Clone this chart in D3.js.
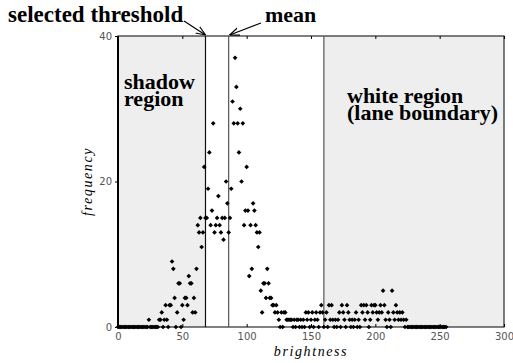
<!DOCTYPE html>
<html>
<head>
<meta charset="utf-8">
<script src="https://cdn.jsdelivr.net/npm/d3@7"></script>
<style>
  body { margin: 0; background: #fff; }
  svg text { font-family: "Liberation Serif", serif; }
</style>
</head>
<body>
<div id="chart"></div>
<script>
// histogram: frequency for brightness 0..255
const frequency = [
  0,0,0,0,0,0,0,0,0,0,0,0,0,0,0,0,
  0,0,0,0,0,0,0,0,1,0,0,0,0,0,0,0,
  1,1,2,0,1,3,1,0,3,3,9,8,4,0,2,6,
  6,0,3,1,4,4,3,7,6,6,2,4,2,8,14,13,
  15,11,13,22,15,15,19,24,14,16,28,13,14,15,18,14,
  13,15,12,15,20,17,13,15,19,31,28,37,33,28,24,30,
  20,28,14,16,22,16,7,14,8,17,16,14,13,11,13,5,
  2,6,6,4,8,6,4,4,3,3,2,3,2,1,0,2,
  0,2,2,1,1,1,1,1,0,1,0,1,1,0,1,0,
  1,0,2,1,2,0,1,2,0,1,2,1,0,2,3,2,
  0,1,2,0,3,1,3,1,0,1,0,1,2,0,3,2,
  1,0,3,2,1,0,1,0,1,2,0,1,0,3,2,3,
  1,3,2,0,1,3,2,3,3,2,1,2,3,2,5,3,
  1,0,2,1,0,5,2,1,3,2,1,2,1,2,1,0,
  1,0,0,0,0,0,0,0,0,0,0,0,0,0,0,0,
  0,0,0,0,0,0,0,0,0,0,0,0,0,0,0,0
];
const brightness = frequency.map((f, i) => i);

const xTicks = [0, 50, 100, 150, 200, 250, 300];
const yTicks = [0, 20, 40];
const threshold = 68;
const mean = 86;
const whiteStart = 160;

const W = 513, H = 363;
const margin = {top: 36, right: 9, bottom: 36, left: 118};
const width = W - margin.left - margin.right;
const height = H - margin.top - margin.bottom;

const svg = d3.select("#chart").append("svg")
  .attr("width", W).attr("height", H);

const defs = svg.append("defs");
defs.append("marker")
  .attr("id", "arr")
  .attr("viewBox", "0 0 10 10")
  .attr("refX", 10).attr("refY", 5)
  .attr("markerWidth", 8).attr("markerHeight", 8)
  .attr("orient", "auto")
  .append("path")
  .attr("d", "M0,1 L10,5 L0,9")
  .attr("fill", "none").attr("stroke", "#000").attr("stroke-width", 1.2);

const g = svg.append("g").attr("transform", `translate(${margin.left},${margin.top})`);

const x = d3.scaleLinear().domain([0, 300]).range([0, width]);
const y = d3.scaleLinear().domain([0, 40]).range([height, 0]);

// shaded regions
g.append("rect").attr("x", x(0)).attr("y", 0)
  .attr("width", x(threshold) - x(0)).attr("height", height).attr("fill", "#eeeeee");
g.append("rect").attr("x", x(whiteStart)).attr("y", 0)
  .attr("width", x(300) - x(whiteStart)).attr("height", height).attr("fill", "#eeeeee");

// frame
g.append("rect").attr("width", width).attr("height", height)
  .attr("fill", "none").attr("stroke", "#000").attr("stroke-width", 1);
g.append("line").attr("x1", 0).attr("x2", 0).attr("y1", 0).attr("y2", height)
  .attr("stroke", "#000").attr("stroke-width", 2);

// axes
const tickFont = g => g.selectAll("text")
  .attr("fill", "#555").style("font-family", "DejaVu Sans, sans-serif").style("font-size", "10px");

g.append("g").attr("transform", `translate(0,${height})`)
  .call(d3.axisBottom(x).tickValues(xTicks).tickSize(-3).tickPadding(6))
  .call(a => a.select(".domain").remove())
  .call(tickFont);
g.append("g")
  .call(d3.axisTop(x).tickValues(xTicks).tickSize(-3).tickFormat(""))
  .call(a => a.select(".domain").remove());
g.append("g")
  .call(d3.axisLeft(y).tickValues(yTicks).tickSize(3).tickPadding(3))
  .call(a => a.select(".domain").remove())
  .call(tickFont);

// vertical marker lines
g.append("line").attr("x1", x(threshold)).attr("x2", x(threshold))
  .attr("y1", 0).attr("y2", height).attr("stroke", "#111").attr("stroke-width", 1.2);
g.append("line").attr("x1", x(mean)).attr("x2", x(mean))
  .attr("y1", 0).attr("y2", height).attr("stroke", "#555").attr("stroke-width", 1.2);
g.append("line").attr("x1", x(whiteStart)).attr("x2", x(whiteStart))
  .attr("y1", 0).attr("y2", height).attr("stroke", "#555").attr("stroke-width", 1.2);

// points
const sym = d3.symbol().type(d3.symbolSquare).size(11);
g.selectAll(".pt").data(brightness).enter().append("path")
  .attr("class", "pt")
  .attr("d", sym)
  .attr("transform", d => `translate(${x(d)},${y(frequency[d])}) rotate(45)`)
  .attr("fill", "#000");

// axis labels
const axisFont = s => s.style("font-family", "Liberation Serif, serif")
  .style("font-style", "italic").style("font-size", "14px").style("letter-spacing", "1.6px");
svg.append("text")
  .attr("x", margin.left + x(150)).attr("y", 356)
  .attr("text-anchor", "middle")
  .call(axisFont)
  .text("brightness");
svg.append("text")
  .attr("transform", `translate(92,${margin.top + y(20)}) rotate(-90)`)
  .attr("text-anchor", "middle")
  .call(axisFont)
  .text("frequency");

// annotations
const bold = s => s.style("font-weight", "bold").style("font-size", "22px");
svg.append("text").attr("x", 8).attr("y", 22).call(bold)
  .style("font-size", "23px").text("selected threshold");
svg.append("text").attr("x", 265).attr("y", 22).call(bold).text("mean");
svg.append("line").attr("x1", 184).attr("y1", 21)
  .attr("x2", margin.left + x(threshold)).attr("y2", margin.top - 1)
  .attr("stroke", "#000").attr("stroke-width", 1.2).attr("marker-end", "url(#arr)");
svg.append("line").attr("x1", 261).attr("y1", 23)
  .attr("x2", margin.left + x(mean) + 1).attr("y2", margin.top - 1)
  .attr("stroke", "#000").attr("stroke-width", 1.2).attr("marker-end", "url(#arr)");

const block = (x0, y0, lines) => {
  const t = svg.append("text").attr("x", x0).attr("y", y0).call(bold);
  lines.forEach((s, i) => t.append("tspan").attr("x", x0).attr("dy", i ? 17 : 0).text(s));
};
block(124, 89, ["shadow", "region"]);
block(347, 103, ["white region", "(lane boundary)"]);
</script>
</body>
</html>
